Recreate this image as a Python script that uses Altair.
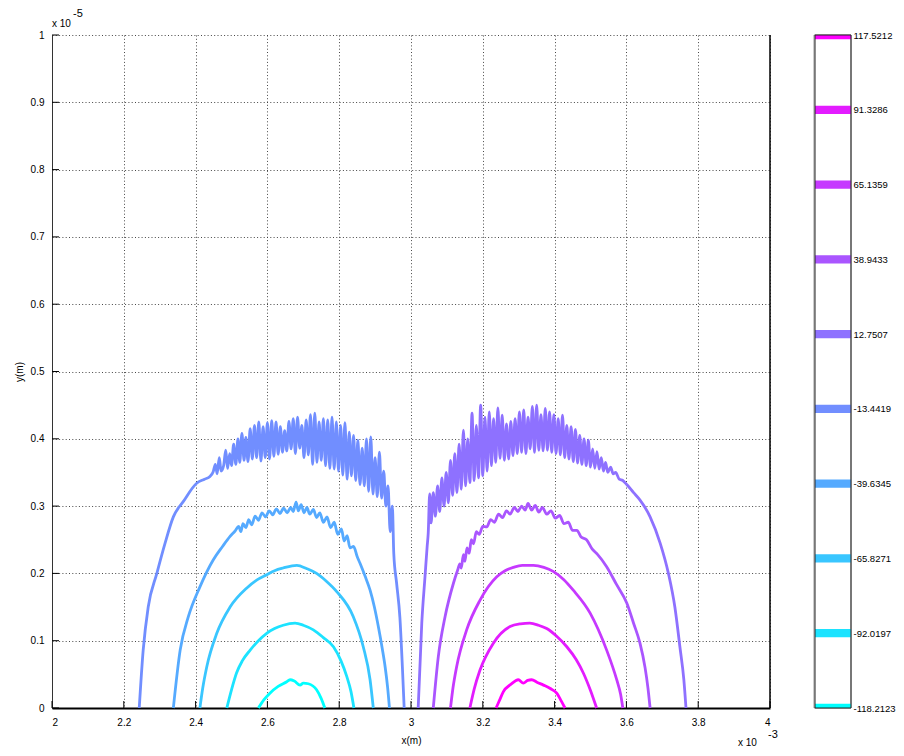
import altair as alt
import pandas as pd

# ---------------- data (x in units of 1e-3 m, y in units of 1e-5 m) ----------------
LEVELS = [-118.2123, -92.0197, -65.8271, -39.6345, -13.4419,
          12.7507, 38.9433, 65.1359, 91.3286, 117.5212]
LEVEL_NAMES = ["-118.2123", "-92.0197", "-65.8271", "-39.6345", "-13.4419",
               "12.7507", "38.9433", "65.1359", "91.3286", "117.5212"]
COLORS = ["#00FFFF", "#1CE3FF", "#39C6FF", "#55AAFF", "#718EFF",
          "#8E71FF", "#AA55FF", "#C639FF", "#E31CFF", "#FF00FF"]

XTICKS = [2.0, 2.2, 2.4, 2.6, 2.8, 3.0, 3.2, 3.4, 3.6, 3.8, 4.0]
YTICKS = [0.0, 0.1, 0.2, 0.3, 0.4, 0.5, 0.6, 0.7, 0.8, 0.9, 1.0]

# left lobe (negative levels)
L0_X = [2.575, 2.590, 2.607, 2.630, 2.654, 2.663, 2.675, 2.691, 2.700, 2.714, 2.737, 2.750, 2.760]
L0_Y = [0.0, 0.012, 0.022, 0.032, 0.039, 0.042, 0.040, 0.034, 0.037, 0.036, 0.027, 0.014, 0.0]

L1_X = [2.487, 2.500, 2.514, 2.530, 2.552, 2.575, 2.598, 2.620, 2.644, 2.677, 2.700, 2.728, 2.755, 2.784, 2.805, 2.821, 2.833, 2.841]
L1_Y = [0.0, 0.027, 0.052, 0.070, 0.086, 0.100, 0.111, 0.118, 0.123, 0.126, 0.123, 0.116, 0.105, 0.091, 0.070, 0.047, 0.024, 0.0]

L2_X = [2.412, 2.420, 2.431, 2.459, 2.496, 2.542, 2.570, 2.598, 2.620, 2.644, 2.682, 2.710, 2.737, 2.765, 2.793, 2.839, 2.867, 2.886, 2.895]
L2_Y = [0.0, 0.030, 0.061, 0.111, 0.150, 0.178, 0.190, 0.198, 0.204, 0.208, 0.212, 0.207, 0.200, 0.188, 0.173, 0.136, 0.091, 0.042, 0.0]

L3_X = [2.338, 2.357, 2.380, 2.412, 2.449, 2.475, 2.496, 2.510, 2.520, 2.526, 2.532, 2.540, 2.548, 2.556, 2.566,
        2.575, 2.585, 2.595, 2.605, 2.615, 2.625, 2.635, 2.645, 2.655, 2.665, 2.672, 2.680, 2.686, 2.694, 2.702,
        2.710, 2.718, 2.728, 2.737, 2.746, 2.756, 2.766, 2.776, 2.786, 2.796, 2.806, 2.814, 2.822, 2.830, 2.840,
        2.850, 2.858, 2.872, 2.886, 2.898, 2.909, 2.920, 2.928, 2.935, 2.940]
L3_Y = [0.0, 0.086, 0.136, 0.180, 0.220, 0.240, 0.255, 0.263, 0.270, 0.262, 0.274, 0.268, 0.280, 0.272, 0.285,
        0.279, 0.290, 0.284, 0.293, 0.287, 0.296, 0.289, 0.297, 0.290, 0.298, 0.292, 0.306, 0.293, 0.302, 0.290,
        0.298, 0.288, 0.295, 0.283, 0.290, 0.276, 0.284, 0.268, 0.276, 0.258, 0.266, 0.248, 0.256, 0.238, 0.240,
        0.225, 0.215, 0.196, 0.175, 0.150, 0.121, 0.088, 0.061, 0.030, 0.0]

L4_X = [2.243, 2.254, 2.268, 2.292, 2.315, 2.338, 2.366, 2.403, 2.425, 2.440, 2.449,
        2.455, 2.460, 2.466, 2.471, 2.478, 2.484, 2.489, 2.495, 2.500, 2.506, 2.512, 2.518, 2.523, 2.529,
        2.535, 2.540, 2.546, 2.552, 2.558, 2.564, 2.570, 2.576, 2.582, 2.588, 2.594, 2.600, 2.606, 2.612,
        2.618, 2.624, 2.630, 2.636, 2.642, 2.648, 2.654, 2.660, 2.666, 2.672, 2.678, 2.684, 2.690, 2.696,
        2.702, 2.708, 2.714, 2.720, 2.726, 2.732, 2.738, 2.744, 2.750, 2.756, 2.762, 2.768, 2.774, 2.780,
        2.786, 2.792, 2.798, 2.804, 2.810, 2.816, 2.822, 2.828, 2.834, 2.840, 2.846, 2.852, 2.858, 2.864,
        2.870, 2.876, 2.882, 2.888, 2.894, 2.900, 2.906, 2.912, 2.918, 2.924, 2.930, 2.936, 2.942, 2.948,
        2.952, 2.960, 2.969, 2.976, 2.981]
L4_Y = [0.0, 0.086, 0.150, 0.200, 0.245, 0.284, 0.307, 0.334, 0.340, 0.344, 0.351,
        0.362, 0.348, 0.372, 0.352, 0.360, 0.383, 0.356, 0.378, 0.360, 0.392, 0.362, 0.400, 0.365, 0.408,
        0.368, 0.402, 0.366, 0.415, 0.370, 0.420, 0.372, 0.425, 0.367, 0.418, 0.372, 0.424, 0.370, 0.427,
        0.374, 0.425, 0.377, 0.418, 0.380, 0.412, 0.382, 0.426, 0.385, 0.430, 0.378, 0.432, 0.386, 0.420,
        0.372, 0.428, 0.376, 0.436, 0.362, 0.438, 0.365, 0.425, 0.368, 0.430, 0.360, 0.428, 0.356, 0.432,
        0.355, 0.425, 0.352, 0.420, 0.346, 0.424, 0.340, 0.410, 0.345, 0.405, 0.338, 0.398, 0.332, 0.386,
        0.330, 0.400, 0.322, 0.403, 0.318, 0.372, 0.314, 0.380, 0.312, 0.352, 0.300, 0.330, 0.262, 0.300,
        0.230, 0.185, 0.135, 0.061, 0.0]

# right lobe (positive levels)
R0_X = [3.020, 3.030, 3.039, 3.045, 3.048,
        3.052, 3.056, 3.062, 3.068, 3.074, 3.080, 3.086, 3.092, 3.098, 3.104, 3.110, 3.116, 3.122, 3.128,
        3.134, 3.140, 3.146, 3.152, 3.158, 3.164, 3.170, 3.176, 3.182, 3.188, 3.194, 3.200, 3.206, 3.212,
        3.218, 3.224, 3.230, 3.236, 3.242, 3.248, 3.254, 3.260, 3.266, 3.272, 3.278, 3.284, 3.290, 3.296,
        3.302, 3.308, 3.314, 3.320, 3.326, 3.332, 3.338, 3.344, 3.350, 3.356, 3.362, 3.368, 3.374, 3.380,
        3.386, 3.392, 3.398, 3.404, 3.410, 3.416, 3.422, 3.428, 3.434, 3.440, 3.446, 3.452, 3.458, 3.464,
        3.470, 3.476, 3.482, 3.488, 3.494, 3.500, 3.506, 3.512, 3.518, 3.524, 3.530, 3.536, 3.542, 3.548,
        3.556, 3.563, 3.570, 3.580, 3.590, 3.601, 3.620, 3.638, 3.666, 3.694, 3.717, 3.735, 3.749, 3.760, 3.766]
R0_Y = [0.0, 0.126, 0.195, 0.240, 0.260,
        0.318, 0.275, 0.320, 0.285, 0.330, 0.292, 0.342, 0.300, 0.350, 0.305, 0.368, 0.316, 0.378, 0.320,
        0.392, 0.325, 0.413, 0.330, 0.400, 0.335, 0.438, 0.338, 0.420, 0.342, 0.450, 0.345, 0.432, 0.352,
        0.440, 0.360, 0.430, 0.365, 0.446, 0.371, 0.435, 0.368, 0.422, 0.370, 0.426, 0.375, 0.430, 0.378,
        0.440, 0.380, 0.443, 0.378, 0.432, 0.385, 0.448, 0.380, 0.450, 0.383, 0.436, 0.382, 0.445, 0.383,
        0.440, 0.380, 0.436, 0.378, 0.430, 0.376, 0.435, 0.372, 0.420, 0.370, 0.418, 0.366, 0.414, 0.364,
        0.405, 0.362, 0.400, 0.360, 0.398, 0.358, 0.385, 0.356, 0.381, 0.355, 0.372, 0.352, 0.365, 0.350,
        0.358, 0.348, 0.350, 0.340, 0.338, 0.332, 0.320, 0.309, 0.284, 0.245, 0.200, 0.150, 0.091, 0.042, 0.0]

R1_X = [3.062, 3.076, 3.095, 3.118, 3.130, 3.136, 3.140, 3.146, 3.150, 3.156, 3.162, 3.168, 3.174, 3.182,
        3.190, 3.200, 3.211, 3.222, 3.232, 3.244, 3.255, 3.266, 3.276, 3.288, 3.298, 3.308, 3.318, 3.326,
        3.336, 3.346, 3.356, 3.366, 3.378, 3.390, 3.402, 3.414, 3.426, 3.438, 3.450, 3.462, 3.474, 3.489,
        3.505, 3.520, 3.545, 3.572, 3.601, 3.620, 3.638, 3.652, 3.660, 3.666]
R1_Y = [0.0, 0.076, 0.136, 0.185, 0.205, 0.214, 0.208, 0.228, 0.218, 0.238, 0.230, 0.250, 0.244, 0.262,
        0.258, 0.270, 0.269, 0.280, 0.276, 0.288, 0.283, 0.293, 0.288, 0.298, 0.292, 0.300, 0.294, 0.304,
        0.294, 0.301, 0.291, 0.298, 0.288, 0.293, 0.282, 0.286, 0.274, 0.276, 0.264, 0.264, 0.254, 0.250,
        0.236, 0.228, 0.210, 0.184, 0.156, 0.126, 0.096, 0.060, 0.030, 0.0]

R2_X = [3.110, 3.117, 3.127, 3.155, 3.192, 3.239, 3.262, 3.285, 3.310, 3.341, 3.370, 3.396, 3.425, 3.452,
        3.499, 3.545, 3.573, 3.584, 3.590]
R2_Y = [0.0, 0.030, 0.061, 0.116, 0.160, 0.195, 0.204, 0.209, 0.212, 0.212, 0.209, 0.203, 0.191, 0.175,
        0.141, 0.086, 0.042, 0.020, 0.0]

R3_X = [3.164, 3.176, 3.192, 3.229, 3.276, 3.305, 3.331, 3.355, 3.378, 3.405, 3.434, 3.460, 3.480, 3.500, 3.517]
R3_Y = [0.0, 0.028, 0.056, 0.096, 0.121, 0.125, 0.126, 0.123, 0.118, 0.107, 0.091, 0.072, 0.052, 0.026, 0.0]

R4_X = [3.237, 3.247, 3.257, 3.278, 3.299, 3.313, 3.325, 3.336, 3.352, 3.369, 3.388, 3.406, 3.418, 3.429]
R4_Y = [0.0, 0.012, 0.024, 0.035, 0.042, 0.037, 0.041, 0.042, 0.038, 0.034, 0.029, 0.022, 0.011, 0.0]

CONTOURS = [
    (LEVEL_NAMES[0], L0_X, L0_Y), (LEVEL_NAMES[1], L1_X, L1_Y), (LEVEL_NAMES[2], L2_X, L2_Y),
    (LEVEL_NAMES[3], L3_X, L3_Y), (LEVEL_NAMES[4], L4_X, L4_Y),
    (LEVEL_NAMES[5], R0_X, R0_Y), (LEVEL_NAMES[6], R1_X, R1_Y), (LEVEL_NAMES[7], R2_X, R2_Y),
    (LEVEL_NAMES[8], R3_X, R3_Y), (LEVEL_NAMES[9], R4_X, R4_Y),
]

rows = []
for name, xs, ys in CONTOURS:
    for i, (xv, yv) in enumerate(zip(xs, ys)):
        rows.append({"x": xv, "y": yv, "name": name, "i": i})
contour_df = pd.DataFrame(rows)
xtick_df = pd.DataFrame({"x": XTICKS})
ytick_df = pd.DataFrame({"y": YTICKS})
edge_df = pd.DataFrame({"x": [XTICKS[-1]]})
levels_df = pd.DataFrame({"level": LEVELS, "name": LEVEL_NAMES})
one_df = pd.DataFrame({"k": [0]})

# ---------------- chart ----------------
W, H = 718, 673
CB_X0, CB_X1 = 763, 799          # colourbar box (pixels, relative to plot area)
BAND_HALF = 1.45                 # half height of a colourbar band, in level units
FONT = "Liberation Sans"
xscale = alt.Scale(domain=[XTICKS[0], XTICKS[-1]], nice=False, zero=False)
yscale = alt.Scale(domain=[YTICKS[0], YTICKS[-1]], nice=False, zero=False)
cscale = alt.Scale(domain=LEVEL_NAMES, range=COLORS)
lscale = alt.Scale(domain=[LEVELS[0], LEVELS[-1]], nice=False, zero=False)

axis_common = dict(ticks=False, grid=True, gridDash=[1, 2.3], gridColor="#333333", gridOpacity=0.9,
                   labelFontSize=10, titleFontSize=10, titleFontWeight="normal",
                   labelFont=FONT, titleFont=FONT, labelColor="#000000", titleColor="#000000")
XAXIS = alt.Axis(values=XTICKS, format="~g", title="x(m)", labelPadding=9, titlePadding=8,
                 domainColor="#000000", domainWidth=2, **axis_common)
YAXIS = alt.Axis(values=YTICKS, format="~g", title="y(m)", labelPadding=8, titlePadding=6,
                 domainColor="#333333", domainWidth=1, **axis_common)

lines = alt.Chart(contour_df).mark_line(strokeWidth=2.8, strokeJoin="round", interpolate="monotone").encode(
    x=alt.X("x:Q", scale=xscale, axis=XAXIS),
    y=alt.Y("y:Q", scale=yscale, axis=YAXIS),
    color=alt.Color("name:N", scale=cscale, legend=None),
    detail="name:N",
    order="i:Q",
)

xticks = alt.Chart(xtick_df).mark_rule(color="#000000", strokeWidth=1).encode(
    x=alt.X("x:Q", scale=xscale, axis=XAXIS), y=alt.value(H), y2=alt.value(H - 7))
yticks = alt.Chart(ytick_df).mark_rule(color="#000000", strokeWidth=1).encode(
    y=alt.Y("y:Q", scale=yscale, axis=YAXIS), x=alt.value(0), x2=alt.value(7))
edge = alt.Chart(edge_df).mark_rule(color="#000000", strokeWidth=1.5).encode(
    x=alt.X("x:Q", scale=xscale, axis=XAXIS), y=alt.value(0), y2=alt.value(H))

ann_df = pd.DataFrame({"t": ["x 10"], "e": ["-5"], "t2": ["x 10"], "e2": ["-3"]})
ann1 = alt.Chart(ann_df).mark_text(align="left", baseline="alphabetic", fontSize=10, font=FONT, color="#000").encode(
    x=alt.value(0), y=alt.value(-8), text="t:N")
ann2 = alt.Chart(ann_df).mark_text(align="left", baseline="alphabetic", fontSize=11, font=FONT, color="#000").encode(
    x=alt.value(21), y=alt.value(-18), text="e:N")
ann3 = alt.Chart(ann_df).mark_text(align="left", baseline="alphabetic", fontSize=10, font=FONT, color="#000").encode(
    x=alt.value(686), y=alt.value(711), text="t2:N")
ann4 = alt.Chart(ann_df).mark_text(align="left", baseline="alphabetic", fontSize=11, font=FONT, color="#000").encode(
    x=alt.value(716), y=alt.value(703), text="e2:N")

main = alt.layer(lines, xticks, yticks, edge, ann1, ann2, ann3, ann4)

# colourbar
cb_bg = alt.Chart(one_df).mark_rect(fill="#ffffff", stroke="#999999", strokeWidth=1).encode(
    x=alt.value(CB_X0 - 1), x2=alt.value(CB_X1), y=alt.value(0), y2=alt.value(H))
cb_bands = alt.Chart(levels_df).transform_calculate(
    lo=f"max(datum.level - {BAND_HALF}, {LEVELS[0]})",
    hi=f"min(datum.level + {BAND_HALF}, {LEVELS[-1]})",
).mark_rect().encode(
    x=alt.value(CB_X0), x2=alt.value(CB_X1),
    y=alt.Y("lo:Q", scale=lscale, axis=alt.Axis(
        orient="right", values=LEVELS, offset=CB_X1 - W,
        labelExpr="replace(format(datum.value, '.4f'), '\u2212', '-')",
        ticks=False, domain=False, grid=False, title=None, labelPadding=2,
        labelFontSize=9.5, labelFont=FONT, labelColor="#000000")),
    y2="hi:Q",
    color=alt.Color("name:N", scale=cscale, legend=None),
)
cb_box = alt.Chart(one_df).mark_rect(fillOpacity=0, stroke="#222222", strokeWidth=1).encode(
    x=alt.value(CB_X0), x2=alt.value(CB_X1), y=alt.value(0), y2=alt.value(H))

cbar = alt.layer(cb_bg, cb_bands, cb_box)

chart = alt.layer(main, cbar).resolve_scale(y="independent").properties(
    width=W, height=H,
    autosize=alt.AutoSizeParams(type="none"),
    padding={"left": 44, "top": 27, "right": 126, "bottom": 40},
    background="#ffffff",
).configure_view(stroke="transparent")

chart.save("out.html", embed_options={"renderer": "svg", "actions": False})
